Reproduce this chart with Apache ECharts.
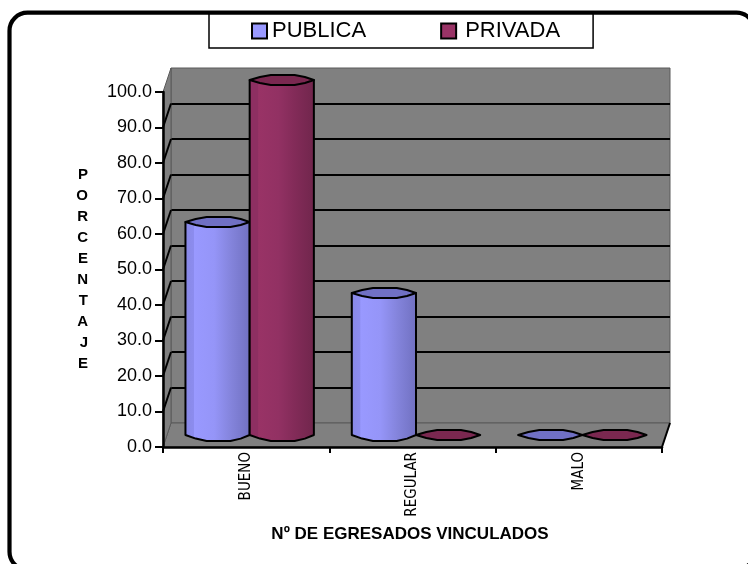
<!DOCTYPE html>
<html><head><meta charset="utf-8">
<style>html,body{margin:0;padding:0;background:#fff}#c{width:748px;height:564px}</style>
<script src="https://cdn.jsdelivr.net/npm/echarts@6/dist/echarts.min.js"></script>
</head><body><div id="c"></div>
<script>
const categories = ['BUENO','REGULAR','MALO'];
const publica = [60,40,0];
const privada = [100,0,0];
const seriesNames = ['PUBLICA','PRIVADA'];
const yTitle = 'PORCENTAJE';
const xTitle = 'Nº DE EGRESADOS VINCULADOS';

const font = 'Liberation Sans';
const narrow = '"DejaVu Sans Condensed","DejaVu Sans"';
const DX = 8, DY = -24;
const chart = echarts.init(document.getElementById('c'));

function grad(stops){
  return new echarts.graphic.LinearGradient(0,0,1,0,stops.map(s=>({offset:s[0],color:s[1]})));
}
const bands = {
  PUBLICA:{side:[[0,'#8888e6'],[.14,'#8c8cee'],[.15,'#9999ff'],[.45,'#9595f8'],[.7,'#8484dc'],[1,'#7070c0']],top:'#7070c4'},
  PRIVADA:{side:[[0,'#8e2f62'],[.14,'#8e2f62'],[.15,'#993366'],[.45,'#923163'],[.7,'#822b58'],[1,'#70264c']],top:'#7a2850'}
};
function ring(cx,cy,hw,hh){
  return [[-1,0],[-.68,-.6],[-.34,-1],[.4,-1],[.72,-.6],[1,0],[.72,.6],[.4,1],[-.34,1],[-.68,.6]]
    .map(p=>[cx+p[0]*hw,cy+p[1]*hh]);
}
function cylinder(idx,name){
  return function(params,api){
    const base = api.coord([api.value(0),0]);
    const top = api.coord([api.value(0),api.value(1)]);
    const band = api.size([1,0])[0];
    const hw = band*0.193;
    const cx = base[0]+DX/2-0.5+(idx===0?-hw:hw);
    const by = base[1]+DY/2, ty = top[1]+DY/2;
    const hh = 5;
    const style = {stroke:'#000',lineWidth:2,lineJoin:'round'};
    const children = [];
    const flat = api.value(1)===0;
    if(!flat){
      const b = ring(cx,by,hw,hh+1), t = ring(cx,ty,hw,hh);
      const pts = [t[0],b[0],b[9],b[8],b[7],b[6],b[5],t[5]];
      children.push({type:'polygon',shape:{points:pts},style:Object.assign({fill:grad(bands[name].side)},style)});
    }
    children.push({type:'polygon',shape:{points:ring(cx,ty,hw,hh)},style:Object.assign({fill:bands[name].top},style)});
    return {type:'group',children};
  };
}
function cylData(arr){return arr.map((v,i)=>[i,v]);}
function shell(params,api){
  const g=params.coordSys;
  const L=g.x,R=g.x+g.width,T=g.y,B=g.y+g.height;
  const out=[
    {type:'polygon',shape:{points:[[L,B],[R,B],[R+DX,B+DY],[L+DX,B+DY]]},style:{fill:'#808080',stroke:'#5a5a5a',lineWidth:1}},
    {type:'polygon',shape:{points:[[L,B],[L,T],[L+DX,T+DY],[L+DX,B+DY]]},style:{fill:'#808080',stroke:'#5a5a5a',lineWidth:1}},
    {type:'line',shape:{x1:R,y1:B,x2:R+DX,y2:B+DY},style:{stroke:'#000',lineWidth:2}}
  ];
  for(let v=10;v<100;v+=10){
    const y=api.coord([0,v])[1];
    out.push({type:'line',shape:{x1:L,y1:y,x2:L+DX,y2:y+DY},style:{stroke:'#000',lineWidth:2}});
  }
  return {type:'group',children:out};
}
chart.setOption({
  animation:false,
  backgroundColor:'#fff',
  graphic:[{type:'rect',z:-10,shape:{x:9.5,y:12.7,width:745,height:557,r:18},style:{fill:'#fff',stroke:'#000',lineWidth:4.2}}],
  legend:{
    data:[{name:seriesNames[0]},{name:seriesNames[1],textStyle:{padding:[0,0,0,4]}}],
    left:209,top:14,orient:'horizontal',
    backgroundColor:'#fff',borderColor:'#000',borderWidth:1.5,
    padding:[6,33,6,42],itemGap:74,itemWidth:15,itemHeight:15,itemStyle:{borderColor:'#000',borderWidth:2},
    textStyle:{fontFamily:font,fontSize:22,color:'#000'},
    icon:'rect'
  },
  grid:[
    {left:171,top:68,width:499,height:355,show:true,backgroundColor:'#808080',borderColor:'#5a5a5a',borderWidth:1},
    {left:163,top:92,width:499,height:355}
  ],
  xAxis:[
    {gridIndex:0,type:'category',data:categories,show:false},
    {gridIndex:1,type:'category',data:categories,z:6,
      axisLine:{show:true,lineStyle:{color:'#000',width:2.5}},
      axisTick:{show:true,length:6,lineStyle:{color:'#000',width:2}},
      axisLabel:{rotate:90,fontFamily:narrow,fontSize:15,color:'#000',margin:5,interval:0},
      name:xTitle,nameLocation:'middle',nameGap:79,nameMoveOverlap:false,
      nameTextStyle:{fontFamily:font,fontSize:17,fontWeight:'bold',color:'#000',padding:[0,0,0,-5]}
    }
  ],
  yAxis:[
    {gridIndex:0,type:'value',min:0,max:100,interval:10,z:1,
      axisLine:{show:false},axisTick:{show:false},axisLabel:{show:false},
      splitLine:{show:true,showMinLine:false,showMaxLine:false,lineStyle:{color:'#000',width:2}}},
    {gridIndex:1,type:'value',min:0,max:100,interval:10,z:6,
      axisLine:{show:true,lineStyle:{color:'#000',width:2.5}},
      axisTick:{show:true,length:8,lineStyle:{color:'#000',width:2}},
      axisLabel:{fontFamily:font,fontSize:18,color:'#000',margin:11,formatter:v=>v.toFixed(1)},
      splitLine:{show:false},
      name:yTitle.split('').join('\n'),nameLocation:'middle',nameGap:75,nameRotate:0,nameMoveOverlap:false,
      nameTextStyle:{fontFamily:font,fontSize:15,fontWeight:'bold',color:'#000',lineHeight:21,padding:[2,0,0,0]}
    }
  ],
  series:[
    {type:'custom',name:'shell',xAxisIndex:1,yAxisIndex:1,z:2,silent:true,data:[[0,0]],renderItem:shell,clip:false},
    {type:'custom',name:seriesNames[0],xAxisIndex:1,yAxisIndex:1,z:4,clip:false,itemStyle:{color:'#9999ff'},data:cylData(publica),renderItem:cylinder(0,'PUBLICA'),encode:{x:0,y:1}},
    {type:'custom',name:seriesNames[1],xAxisIndex:1,yAxisIndex:1,z:5,clip:false,itemStyle:{color:'#993366'},data:cylData(privada),renderItem:cylinder(1,'PRIVADA'),encode:{x:0,y:1}}
  ]
});
</script></body></html>
